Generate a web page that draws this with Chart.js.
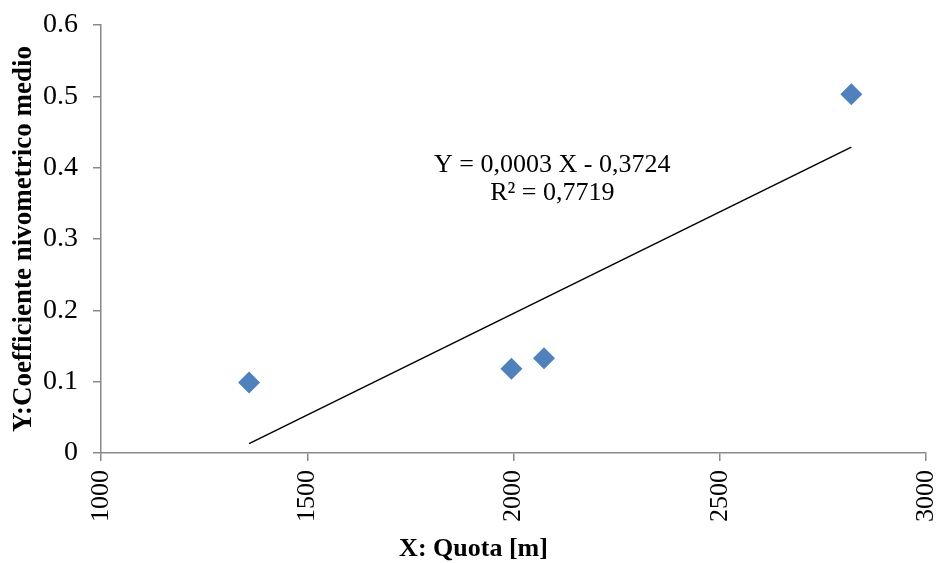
<!DOCTYPE html>
<html>
<head>
<meta charset="utf-8">
<script src="https://cdn.jsdelivr.net/npm/chart.js@4/dist/chart.umd.min.js"></script>
<style>
  html, body { margin: 0; padding: 0; background: #ffffff; }
  #wrap { width: 937px; height: 563px; }
</style>
</head>
<body>
<div id="wrap"><canvas id="chart" width="937" height="563"></canvas></div>
<script>
// Elevation of each station [m] and its mean snow coefficient
const quota = [1359, 1995, 2074, 2819];
const coefficiente = [0.099, 0.118, 0.133, 0.503];

// Axis ticks
const xTicks = [1000, 1500, 2000, 2500, 3000];
const yTicks = [0, 0.1, 0.2, 0.3, 0.4, 0.5, 0.6];

// Texts
const xTitle = 'X: Quota [m]';
const yTitle = 'Y:Coefficiente nivometrico medio';
const equationLines = ['Y = 0,0003 X - 0,3724', 'R\u00B2 = 0,7719'];

// Least-squares linear trend through the points
function linearFit(xs, ys) {
  const n = xs.length;
  const mx = xs.reduce((a, b) => a + b, 0) / n;
  const my = ys.reduce((a, b) => a + b, 0) / n;
  let sxy = 0, sxx = 0;
  for (let i = 0; i < n; i++) {
    sxy += (xs[i] - mx) * (ys[i] - my);
    sxx += (xs[i] - mx) * (xs[i] - mx);
  }
  const slope = sxy / sxx;
  return { slope, intercept: my - slope * mx };
}
const fit = linearFit(quota, coefficiente);
const xMin = Math.min(...quota), xMax = Math.max(...quota);
const trend = [
  { x: xMin, y: fit.slope * xMin + fit.intercept },
  { x: xMax, y: fit.slope * xMax + fit.intercept }
];

const SERIF = "'Liberation Serif', 'Times New Roman', serif";
const AXIS_GREY = '#898989';

// Equation label and x-axis title
const overlayText = {
  id: 'overlayText',
  afterDraw(chart) {
    const { ctx, scales } = chart;
    ctx.save();
    ctx.fillStyle = '#000000';
    ctx.textAlign = 'center';
    ctx.textBaseline = 'middle';
    ctx.font = '26px ' + SERIF;
    const cx = scales.x.getPixelForValue(2094);
    const cy = scales.y.getPixelForValue(0.404);
    equationLines.forEach((line, i) => ctx.fillText(line, cx, cy + i * 28));

    ctx.font = 'bold 26px ' + SERIF;
    ctx.fillText(xTitle, chart.width / 2 + 5, chart.height - 14);
    ctx.restore();
  }
};

const points = quota.map((q, i) => ({ x: q, y: coefficiente[i] }));

new Chart(document.getElementById('chart'), {
  type: 'scatter',
  data: {
    datasets: [
      {
        label: 'Coefficiente nivometrico',
        data: points,
        pointStyle: 'rectRot',
        pointRadius: 11,
        pointHoverRadius: 11,
        backgroundColor: '#4F81BD',
        borderColor: '#4F81BD',
        borderWidth: 0,
        order: 1
      },
      {
        label: 'Lineare',
        type: 'line',
        data: trend,
        borderColor: '#000000',
        borderWidth: 1.5,
        pointRadius: 0,
        fill: false,
        order: 2
      }
    ]
  },
  options: {
    responsive: false,
    animation: false,
    devicePixelRatio: 1,
    layout: { padding: { top: 25, right: 10, bottom: 0, left: 0 } },
    plugins: {
      legend: { display: false },
      tooltip: { enabled: false }
    },
    scales: {
      x: {
        type: 'linear',
        position: 'bottom',
        min: xTicks[0],
        max: xTicks[xTicks.length - 1],
        afterBuildTicks: (scale) => { scale.ticks = xTicks.map(v => ({ value: v })); },
        afterFit: (scale) => { scale.height = 110; scale.paddingLeft = 0; scale.paddingRight = 0; },
        ticks: {
          minRotation: 90,
          maxRotation: 90,
          padding: 9,
          color: '#000000',
          font: { family: SERIF, size: 26 },
          callback: (v) => String(v)
        },
        grid: {
          display: true,
          drawOnChartArea: false,
          drawTicks: true,
          tickLength: 8,
          color: AXIS_GREY,
          lineWidth: 1.5
        },
        border: { display: true, color: AXIS_GREY, width: 1.5 },
        title: { display: false }
      },
      y: {
        type: 'linear',
        min: yTicks[0],
        max: yTicks[yTicks.length - 1],
        afterBuildTicks: (scale) => { scale.ticks = yTicks.map(v => ({ value: v })); },
        afterFit: (scale) => { scale.width = 101; scale.paddingTop = 0; scale.paddingBottom = 0; },
        ticks: {
          padding: 15,
          color: '#000000',
          font: { family: SERIF, size: 28 },
          callback: (v) => String(Math.round(v * 10) / 10)
        },
        grid: {
          display: true,
          drawOnChartArea: false,
          drawTicks: true,
          tickLength: 8,
          color: AXIS_GREY,
          lineWidth: 1.5
        },
        border: { display: true, color: AXIS_GREY, width: 1.5 },
        title: {
          display: true,
          text: yTitle,
          color: '#000000',
          font: { family: SERIF, size: 27, weight: 'bold' },
          padding: { top: 8, bottom: 0 }
        }
      }
    }
  },
  plugins: [overlayText]
});
</script>
</body>
</html>
